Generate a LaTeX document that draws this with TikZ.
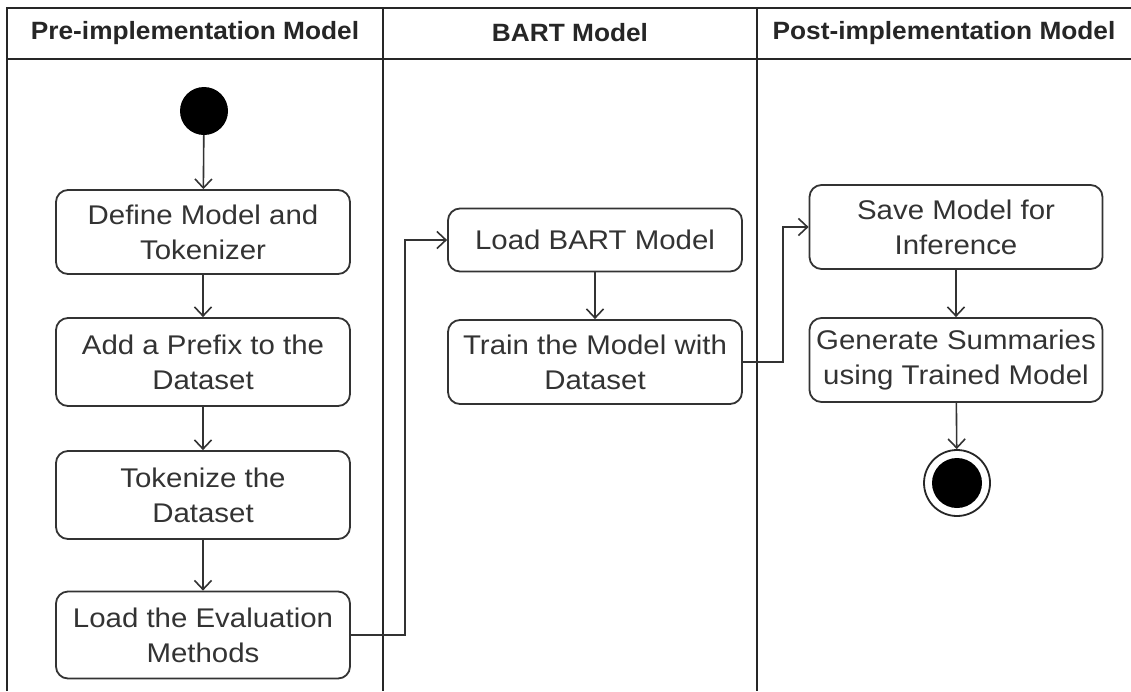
\documentclass[tikz,border=0pt]{standalone}
\usepackage{fontspec}
\setmainfont{Liberation Sans}
\newfontfamily\boxfont[FakeStretch=1.09]{Liberation Sans}
\newfontfamily\headfont[FakeStretch=1.05]{Liberation Sans}
\usetikzlibrary{arrows.meta}
\begin{document}
\begin{tikzpicture}[x=1pt,y=-1pt,
  lane/.style={line width=2pt, draw=black!85},
  act/.style={draw=black!80, line width=1.8pt, rounded corners=12pt,
    minimum width=294pt, align=center, inner sep=0pt,
    font=\boxfont\fontsize{27}{35}\selectfont, text=black!80},
  head/.style={font=\headfont\bfseries\fontsize{25}{30}\selectfont, text=black!85},
  flow/.style={draw=black!80, line width=1.6pt,
    -{Straight Barb[length=9pt,width=17pt]}},
  startnode/.style={circle, fill=black, minimum size=48pt, inner sep=0pt},
]
\useasboundingbox (0,0) rectangle (1131,691);
\fill[white] (0,0) rectangle (1131,691);

% swimlane frame
\draw[lane] (7,691) -- (7,8) -- (1131,8);
\draw[lane] (7,59) -- (1131,59);
\draw[lane] (383,8) -- (383,691);
\draw[lane] (757,8) -- (757,691);

\node[head] (h1) at (195,33) {Pre-implementation Model};
\node[head] (h2) at (570,33) {BART Model};
\node[head] (h3) at (944,33) {Post-implementation Model};

% activities
\node[startnode] (start) at (204,111) {};
\node[act, minimum height=84pt] (d1) at (203,232) {Define Model and\\Tokenizer};
\node[act, minimum height=88pt] (d2) at (203,362) {Add a Prefix to the\\Dataset};
\node[act, minimum height=88pt] (d3) at (203,495) {Tokenize the\\Dataset};
\node[act, minimum height=87pt] (d4) at (203,635) {Load the Evaluation\\Methods};

\node[act, minimum height=63pt] (b1) at (595,240) {Load BART Model};
\node[act, minimum height=84pt] (b2) at (595,362) {Train the Model with\\Dataset};

\node[act, minimum height=84pt, minimum width=293pt] (p1) at (956,227) {Save Model for\\Inference};
\node[act, minimum height=84pt, minimum width=293pt] (p2) at (956,360) {Generate Summaries\\using Trained Model};

\node[circle, draw=black!85, line width=1.8pt, minimum size=66pt, inner sep=0pt] (stop) at (957,483) {};
\fill[black] (stop.center) circle (25pt);

% bend points of the lane-crossing flows
\coordinate (j1) at (405,0);
\coordinate (j2) at (783,0);

\draw[flow] (start) -- (d1);
\draw[flow] (d1) -- (d2);
\draw[flow] (d2) -- (d3);
\draw[flow] (d3) -- (d4);
\draw[flow] (d4.east) -- (d4.east -| j1) -- (b1.west -| j1) -- (b1.west);
\draw[flow] (b1) -- (b2);
\draw[flow] (b2.east) -- (b2.east -| j2) -- (p1.west -| j2) -- (p1.west);
\draw[flow] (p1) -- (p2);
\draw[flow] (p2) -- (stop);
\end{tikzpicture}
\end{document}
